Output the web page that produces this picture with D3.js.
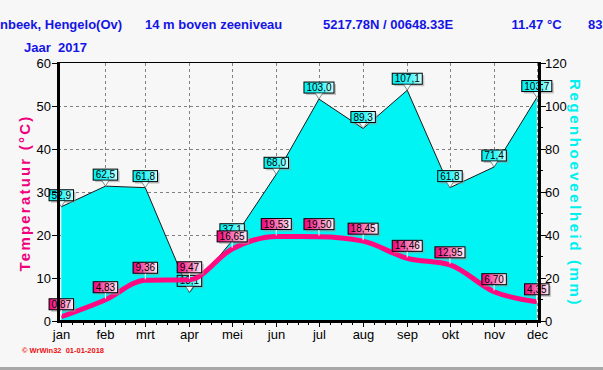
<!DOCTYPE html>
<html><head><meta charset="utf-8">
<script src="https://cdn.jsdelivr.net/npm/d3@7"></script>
<style>body{margin:0;background:#f7f7f7;overflow:hidden} svg{display:block;}</style>
</head><body><svg id="c" width="603" height="370"></svg>
<script>
const months = ["jan","feb","mrt","apr","mei","jun","jul","aug","sep","okt","nov","dec"];
const temperature = [0.87,4.83,9.36,9.47,16.65,19.53,19.50,18.45,14.46,12.95,6.70,4.35];
const rainfall = [52.9,62.5,61.8,13.1,37.1,68.0,103.0,89.3,107.1,61.8,71.4,103.7];
const tempTicks = [0,10,20,30,40,50,60];
const rainTicks = [0,20,40,60,80,100,120];
const rainMinorTicks = [10,30,50,70,90,110];
const headerTexts = ["nbeek, Hengelo(Ov)","14 m boven zeeniveau","5217.78N / 00648.33E","11.47 °C","83"];
const headerX = [0,145,323,511.5,588];
const yearLabel = "Jaar  2017";
const footer = "© WrWin32  01-01-2018";
const leftTitle = "Temperatuur (°C)";
const rightTitle = "Regenhoeveelheid (mm)";

const dates = months.map((m,i)=>new Date(2017,i,1));
const svg = d3.select("#c");
const W=603,H=370;
const plotL=58, plotR=539, plotT=62.5, plotB=320.5;
const x = d3.scaleTime().domain([new Date(2017,0,1), new Date(2017,11,1)]).range([61.3,536.8]);
const yT = d3.scaleLinear().domain([0,60]).range([plotB,plotT]);
const yR = d3.scaleLinear().domain([0,120]).range([plotB,plotT]);

svg.append("rect").attr("width",W).attr("height",H).attr("fill","#f7f7f7");
svg.append("rect").attr("x",0).attr("y",367).attr("width",W).attr("height",3).attr("fill","#a8a8a8");

const defs = svg.append("defs");
const gP = defs.append("linearGradient").attr("id","gp").attr("x1",0).attr("x2",1).attr("y1",0).attr("y2",0);
gP.append("stop").attr("offset",0).attr("stop-color","#f0007c");
gP.append("stop").attr("offset",0.55).attr("stop-color","#ff7cbc");
gP.append("stop").attr("offset",1).attr("stop-color","#fff0f8");
const gC = defs.append("linearGradient").attr("id","gc").attr("x1",0).attr("x2",1).attr("y1",0).attr("y2",0);
gC.append("stop").attr("offset",0).attr("stop-color","#00f0f0");
gC.append("stop").attr("offset",0.6).attr("stop-color","#40f8f8");
gC.append("stop").attr("offset",1).attr("stop-color","#d0ffff");

// header
const hdr = svg.append("g").attr("font-family","Liberation Sans, Arial, sans-serif").attr("font-weight","bold").attr("font-size",13).attr("fill","#1414e6");
headerTexts.forEach((t,i)=>hdr.append("text").attr("x",headerX[i]).attr("y",28.5).text(t));
hdr.append("text").attr("x",24).attr("y",51.5).attr("xml:space","preserve").style("white-space","pre").text(yearLabel);

// gridlines
const grid = svg.append("g").attr("stroke","#808080").attr("stroke-width",1).attr("stroke-dasharray","3,3").attr("shape-rendering","crispEdges");
[10,20,30,40,50].forEach(v=>grid.append("line").attr("x1",plotL).attr("x2",plotR).attr("y1",Math.round(yT(v))+0.5).attr("y2",Math.round(yT(v))+0.5));
dates.slice(1).forEach(d=>grid.append("line").attr("x1",Math.round(x(d))+0.5).attr("x2",Math.round(x(d))+0.5).attr("y1",plotT).attr("y2",plotB));

// rain area
const pts = dates.map((d,i)=>({d, r:rainfall[i], t:temperature[i]}));
const area = d3.area().x(p=>x(p.d)).y0(plotB).y1(p=>yR(p.r));
svg.append("path").datum(pts).attr("d",area).attr("fill","#00f4f4");
svg.append("path").datum(pts).attr("d",d3.line().x(p=>x(p.d)).y(p=>yR(p.r))).attr("fill","none").attr("stroke","#1a1a1a").attr("stroke-width",1);

// rain labels
const fontLbl = "Liberation Sans, Arial, sans-serif";
function label(g, px, py, txt, grad, kind){
  const gg = g.append("g").attr("transform",`translate(${px},${py})`);
  const t = gg.append("text").attr("font-family",fontLbl).attr("font-size",10).attr("text-anchor","middle").text(txt);
  const w = t.node().getComputedTextLength()+5;
  const h = 11, bottom = kind==="r" ? -6 : -7;
  const bx = -w/2, by = bottom-h;
  gg.insert("rect","text").attr("x",bx+2).attr("y",by+2).attr("width",w).attr("height",h).attr("fill","#9a9a9a").attr("opacity",0.55);
  gg.insert("rect","text").attr("x",bx).attr("y",by).attr("width",w).attr("height",h).attr("fill",`url(#${grad})`).attr("stroke","#000").attr("stroke-width",1);
  t.attr("x",0).attr("y",by+9).attr("fill","#000");
  if(kind==="r"){
    gg.append("path").attr("d",`M${-3.5},${bottom+0.5}L0,0L3.5,${bottom+0.5}`).attr("fill","#e8ffff").attr("stroke","#444").attr("stroke-width",0.6);
  } else {
    gg.append("line").attr("x1",0).attr("x2",0).attr("y1",bottom+0.5).attr("y2",-1).attr("stroke","#fff").attr("stroke-width",1);
  }
}
const fmt = v=>v.toFixed(1).replace(".",",");
const fmt2 = v=>v.toFixed(2).replace(".",",");
const rl = svg.append("g");
pts.forEach(p=>label(rl, x(p.d), yR(p.r), fmt(p.r), "gc", "r"));

// temperature line
svg.append("path").datum(pts).attr("d",d3.line().x(p=>x(p.d)).y(p=>yT(p.t)).curve(d3.curveMonotoneX))
  .attr("fill","none").attr("stroke","#ff0a80").attr("stroke-width",5);

const tl = svg.append("g");
pts.forEach(p=>label(tl, x(p.d), yT(p.t), fmt2(p.t), "gp", "t"));

// axes
const ax = svg.append("g").attr("shape-rendering","crispEdges");
ax.append("line").attr("x1",plotL).attr("x2",plotR).attr("y1",plotT).attr("y2",plotT).attr("stroke","#000").attr("stroke-width",1);
ax.append("rect").attr("x",plotL-1.5).attr("y",plotT-0.5).attr("width",3).attr("height",plotB-plotT+2).attr("fill","#000");
ax.append("rect").attr("x",plotR-1.5).attr("y",plotT-0.5).attr("width",3).attr("height",plotB-plotT+2).attr("fill","#000");
ax.append("rect").attr("x",plotL-1.5).attr("y",plotB-1).attr("width",plotR-plotL+3).attr("height",3).attr("fill","#000");

// left ticks
const lt = svg.append("g").attr("font-family",fontLbl).attr("font-size",13).attr("fill","#000");
tempTicks.forEach(v=>{
  const yy=Math.round(yT(v))+0.5;
  ax.append("line").attr("x1",plotL-6).attr("x2",plotL).attr("y1",yy).attr("y2",yy).attr("stroke","#000");
  lt.append("text").attr("x",plotL-7).attr("y",yy+4.5).attr("text-anchor","end").text(v);
});
// right ticks
rainTicks.forEach(v=>{
  const yy=Math.round(yR(v))+0.5;
  ax.append("line").attr("x1",plotR).attr("x2",plotR+7).attr("y1",yy).attr("y2",yy).attr("stroke","#000");
  lt.append("text").attr("x",plotR+6).attr("y",yy+4.5).text(v);
});
rainMinorTicks.forEach(v=>{
  const yy=Math.round(yR(v))+0.5;
  ax.append("line").attr("x1",plotR).attr("x2",plotR+4).attr("y1",yy).attr("y2",yy).attr("stroke","#000");
});
// bottom ticks
dates.forEach((d,i)=>{
  const xx=Math.round(x(d))+0.5;
  ax.append("line").attr("x1",xx).attr("x2",xx).attr("y1",plotB+1).attr("y2",plotB+6).attr("stroke","#000");
  lt.append("text").attr("x",xx).attr("y",338.5).attr("text-anchor","middle").text(months[i]);
  if(i<11){
    const next = dates[i+1];
    for(let k=1;k<4;k++){
      const dd = new Date(+d + (next-d)*k/4);
      const mx=Math.round(x(dd))+0.5;
      ax.append("line").attr("x1",mx).attr("x2",mx).attr("y1",plotB+1).attr("y2",plotB+4).attr("stroke","#000");
    }
  }
});

// axis titles
svg.append("text").attr("transform","translate(30,193) rotate(-90)").attr("text-anchor","middle")
  .attr("font-family",fontLbl).attr("font-weight","bold").attr("font-size",15).attr("letter-spacing",2.2).attr("fill","#f0007c").text(leftTitle);
svg.append("text").attr("transform","translate(570,193) rotate(90)").attr("text-anchor","middle")
  .attr("font-family",fontLbl).attr("font-weight","bold").attr("font-size",15).attr("letter-spacing",2.6).attr("fill","#00f0f0").text(rightTitle);

// footer
svg.append("text").attr("x",22).attr("y",353).attr("font-family",fontLbl).attr("font-weight","bold").attr("font-size",7.5)
  .attr("fill","#f01010").attr("xml:space","preserve").style("white-space","pre").text(footer);
</script></body></html>
